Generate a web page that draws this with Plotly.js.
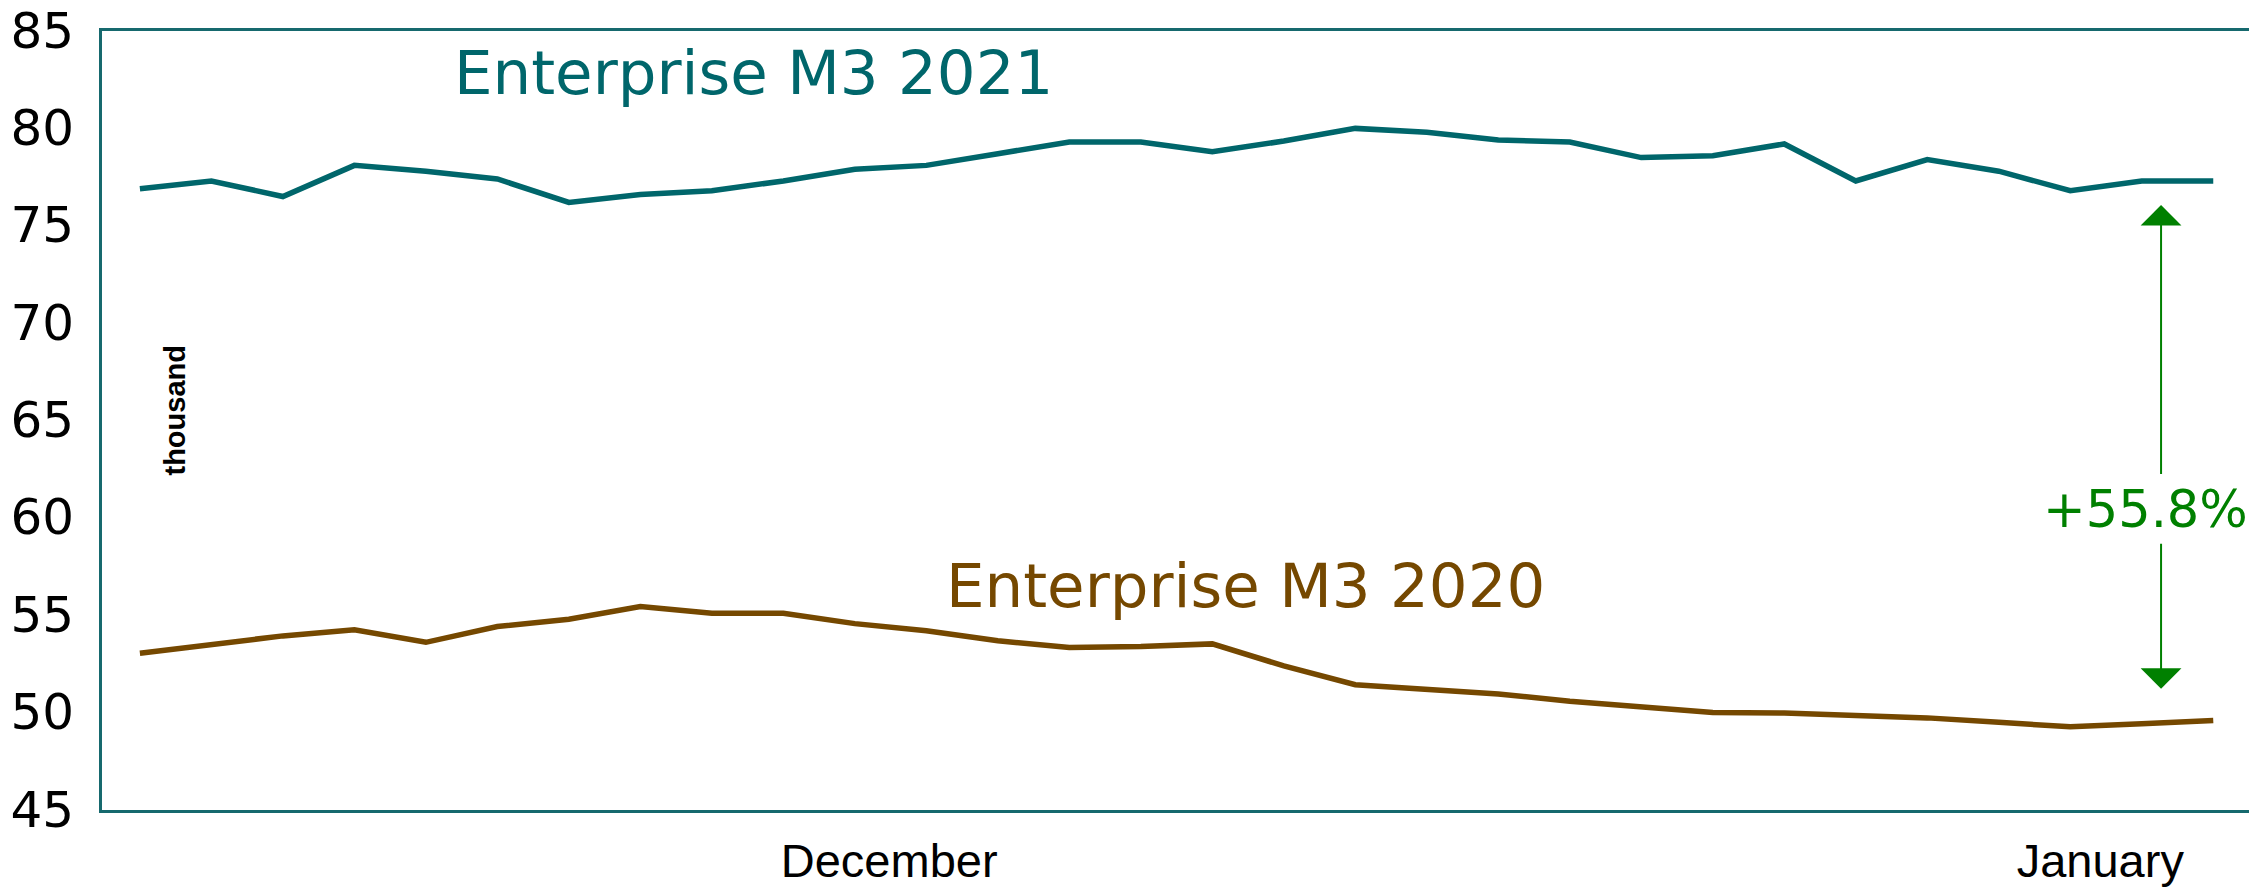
<!DOCTYPE html>
<html>
<head>
<meta charset="utf-8">
<script src="https://cdn.plot.ly/plotly-3.0.1.min.js"></script>
<style>
html,body{margin:0;padding:0;background:#ffffff;}
#chart{width:2249px;height:887px;}
</style>
</head>
<body>
<div id="chart"></div>
<script>
// observation index (equally spaced points)
const period = [0,1,2,3,4,5,6,7,8,9,10,11,12,13,14,15,16,17,18,19,20,21,22,23,24,25,26,27,28,29];
// Enterprise M3, thousand
const m3_2021 = [76.9,77.3,76.5,78.1,77.8,77.4,76.2,76.6,76.8,77.3,77.9,78.1,78.7,79.3,79.3,78.8,79.35,80.0,79.8,79.4,79.3,78.5,78.6,79.2,77.3,78.4,77.8,76.8,77.3,77.3];
const m3_2020 = [53.05,53.48,53.94,54.25,53.61,54.42,54.8,55.45,55.1,55.1,54.57,54.2,53.69,53.34,53.39,53.53,52.4,51.43,51.23,50.96,50.58,50.29,50.01,49.98,49.84,49.73,49.5,49.27,49.43,49.6];
const monthLabels = ['December','January'];
const monthPos = [10.48, 27.42];
const yTicks = [45,50,55,60,65,70,75,80,85];
const seriesNames = ['Enterprise M3 2021','Enterprise M3 2020'];
const changeLabel = '+55.8%';
const unitLabel = 'thousand';

const teal = '#00666b';
const brown = '#754800';
const green = '#008000';
const frame = '#16696e';

const traces = [
  {x: period, y: m3_2021, mode: 'lines', line: {color: teal, width: 5.5}, name: seriesNames[0], hoverinfo: 'skip'},
  {x: period, y: m3_2020, mode: 'lines', line: {color: brown, width: 5.5}, name: seriesNames[1], hoverinfo: 'skip'}
];

const arrowX = 28.27;
const layout = {
  width: 2249, height: 887,
  paper_bgcolor: '#ffffff', plot_bgcolor: '#ffffff',
  margin: {l: 102, r: 0, t: 31, b: 77, pad: 0},
  showlegend: false,
  font: {family: 'Liberation Sans, Arial, sans-serif', color: '#000000'},
  xaxis: {
    range: [-0.53, 29.5], showline: true, linecolor: frame, linewidth: 3, mirror: true,
    showgrid: false, zeroline: false, ticks: '',
    tickmode: 'array', tickvals: monthPos, ticktext: monthLabels,
    tickfont: {family: 'Liberation Sans, Arial, sans-serif', size: 47, color: '#000000'},
    ticklabelstandoff: 8
  },
  yaxis: {
    range: [45, 85], showline: true, linecolor: frame, linewidth: 3, mirror: false,
    showgrid: false, zeroline: false, ticks: '',
    tickmode: 'array', tickvals: yTicks,
    tickfont: {family: 'DejaVu Sans, sans-serif', size: 50, color: '#000000'},
    ticklabelstandoff: 15, ticklabelshift: -1, ticklabeloverflow: 'allow'
  },
  annotations: [
    {x: 8.58, y: 82.87, xref: 'x', yref: 'y', text: seriesNames[0], showarrow: false,
     font: {family: 'DejaVu Sans, sans-serif', size: 61, color: teal}, xanchor: 'center', yanchor: 'middle'},
    {x: 15.46, y: 56.55, xref: 'x', yref: 'y', text: seriesNames[1], showarrow: false,
     font: {family: 'DejaVu Sans, sans-serif', size: 61, color: brown}, xanchor: 'center', yanchor: 'middle'},
    {x: 0.49, y: 65.56, xref: 'x', yref: 'y', text: unitLabel, showarrow: false, textangle: -90,
     font: {family: 'Liberation Sans, Arial, sans-serif', size: 29, color: '#000000', weight: 'bold'},
     xanchor: 'center', yanchor: 'middle'},
    {x: 28.05, y: 60.44, xref: 'x', yref: 'y', text: changeLabel, showarrow: false,
     font: {family: 'DejaVu Sans, sans-serif', size: 51, color: green}, xanchor: 'center', yanchor: 'middle'},
    {x: arrowX, y: 76.06, xref: 'x', yref: 'y', ax: arrowX, ay: 62.18, axref: 'x', ayref: 'y',
     text: '', showarrow: true, arrowhead: 1, arrowsize: 3.4, arrowwidth: 2, arrowcolor: green, standoff: 0},
    {x: arrowX, y: 51.23, xref: 'x', yref: 'y', ax: arrowX, ay: 58.75, axref: 'x', ayref: 'y',
     text: '', showarrow: true, arrowhead: 1, arrowsize: 3.4, arrowwidth: 2, arrowcolor: green, standoff: 0}
  ]
};

Plotly.newPlot('chart', traces, layout, {staticPlot: true, displayModeBar: false});
</script>
</body>
</html>
